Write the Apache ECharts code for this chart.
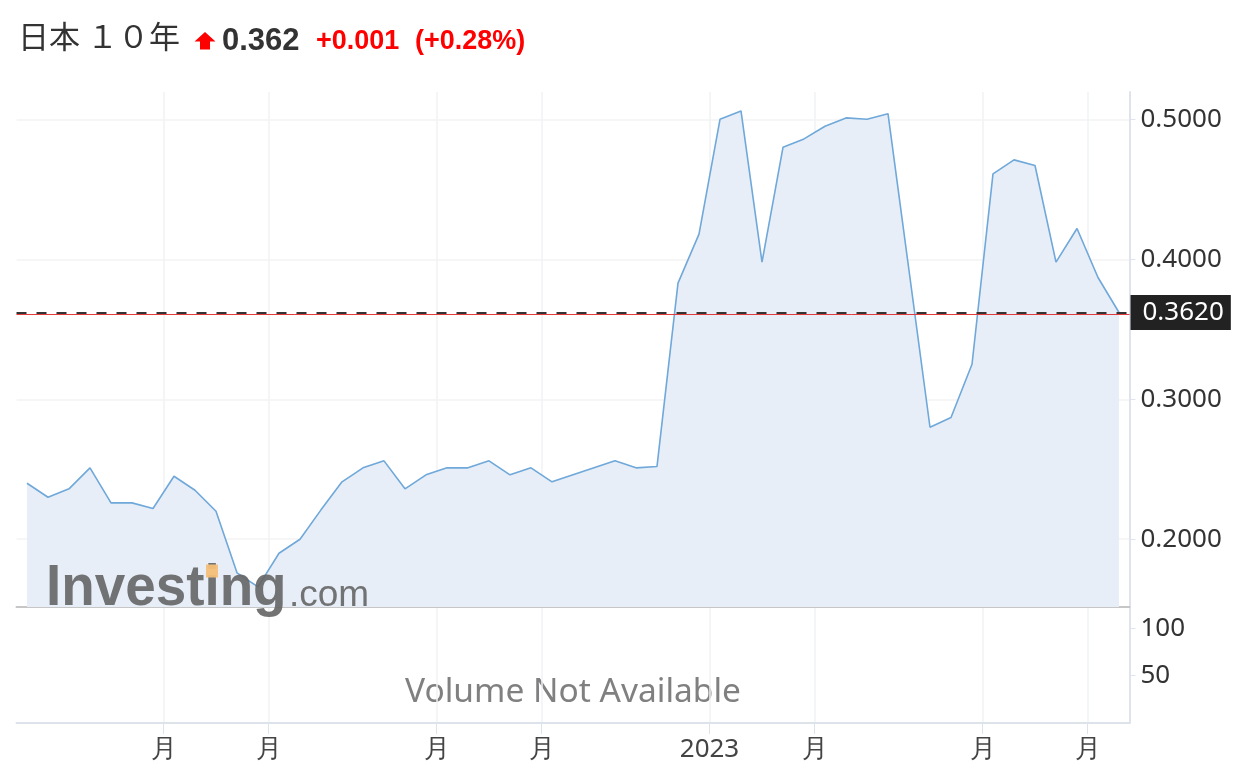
<!DOCTYPE html>
<html>
<head>
<meta charset="utf-8">
<script src="https://cdn.jsdelivr.net/npm/echarts@6/dist/echarts.min.js"></script>
<style>html,body{margin:0;padding:0;background:#fff}#c{width:1246px;height:780px}</style>
</head>
<body>
<div id="c"></div>
<script>
// ---- data ----
const titleName = '日本 １０年';
const lastValue = 0.362;
const changeText = '+0.001';
const changePctText = '(+0.28%)';
const prevClose = 0.361;
const yields = [0.240,0.230,0.236,0.251,0.226,0.226,0.222,0.245,0.235,0.220,0.176,0.166,0.190,
  0.200,0.221,0.241,0.251,0.256,0.236,0.246,0.251,0.251,0.256,0.246,0.251,0.241,0.246,0.251,0.256,0.251,0.252,
  0.383,0.418,0.500,0.506,0.398,0.480,0.486,0.495,0.501,0.500,0.504,null,
  0.280,0.287,0.325,0.461,0.471,0.467,0.398,0.422,0.387,0.362];
const tickPositions = [6.5, 11.5, 19.5, 24.5, 32.5, 37.5, 45.5, 50.5];
const tickLabels = ['月','月','月','月','2023','月','月','月'];
const priceTicks = [0.2, 0.3, 0.4, 0.5];
const volumeTicks = [50, 100];
const volumeNote = 'Volume Not Available';

// ---- chart ----
const chart = echarts.init(document.getElementById('c'));
const priceData = yields.map((v, i) => [i, v]);
const xMin = -0.5, xMax = yields.length - 0.5;
const labelFor = v => { const k = tickPositions.findIndex(t => Math.abs(t - v) < 1e-6); return k >= 0 ? tickLabels[k] : ''; };
const axisFont = 'Noto Sans';

// watermark geometry (decoration only)
const wmFont = 'bold 58px "Liberation Sans"';
const wmScale = 0.945, wmX = 46;
const mctx = document.createElement('canvas').getContext('2d');
mctx.font = wmFont;
const wInvest = mctx.measureText('Invest').width * wmScale;
const wI = mctx.measureText('i').width * wmScale;
const dotCx = wmX + wInvest + wI / 2;

chart.setOption({
  animation: false,
  backgroundColor: '#fff',
  grid: [
    {left: 16.5, right: 116.5, top: 92, height: 515},
    {left: 16.5, right: 116.5, top: 607, height: 116}
  ],
  xAxis: [
    {type: 'value', gridIndex: 0, min: xMin, max: xMax,
     axisLine: {show: true, onZero: false, lineStyle: {color: '#c6c6c6', width: 2}},
     axisTick: {show: false, customValues: tickPositions},
     axisLabel: {show: false, customValues: tickPositions},
     splitLine: {show: true, lineStyle: {color: '#f1f2f4', width: 1.5}}},
    {type: 'value', gridIndex: 1, min: xMin, max: xMax,
     axisLine: {show: true, onZero: false, lineStyle: {color: '#dde3eb', width: 2}},
     axisTick: {show: true, length: 11, customValues: tickPositions, lineStyle: {color: '#dde3eb', width: 1}},
     axisLabel: {show: true, customValues: tickPositions, formatter: labelFor, color: '#444', fontSize: 26, fontFamily: axisFont, margin: 14},
     splitLine: {show: true, lineStyle: {color: '#f1f2f4', width: 1.5}}}
  ],
  yAxis: [
    {type: 'value', gridIndex: 0, position: 'right', min: 0.1516, max: 0.5195,
     axisLine: {show: true, onZero: false, lineStyle: {color: '#dfe4ec', width: 2}},
     axisTick: {show: true, length: 6, customValues: priceTicks, lineStyle: {color: '#dfe4ec'}},
     axisLabel: {customValues: priceTicks, formatter: v => v.toFixed(4), color: '#333', fontSize: 26, fontFamily: axisFont, margin: 11},
     splitLine: {show: true, lineStyle: {color: '#f3f3f3', width: 1.5}}},
    {type: 'value', gridIndex: 1, position: 'right', min: 0, max: 122.5,
     axisLine: {show: true, onZero: false, lineStyle: {color: '#dfe4ec', width: 2}},
     axisTick: {show: true, length: 6, customValues: volumeTicks, lineStyle: {color: '#dfe4ec'}},
     axisLabel: {customValues: volumeTicks, color: '#333', fontSize: 26, fontFamily: axisFont, margin: 11},
     splitLine: {show: false}}
  ],
  series: [
    {type: 'line', xAxisIndex: 0, yAxisIndex: 0, data: priceData, connectNulls: true,
     symbol: 'none', showSymbol: false, silent: true,
     lineStyle: {color: '#6fa8d9', width: 1.6},
     areaStyle: {color: '#e7eef7', opacity: 1},
     markLine: {symbol: 'none', silent: true, animation: false, precision: 4,
       data: [
         {yAxis: prevClose, lineStyle: {color: '#e23b3b', width: 1, type: 'solid'}, label: {show: false}},
         {yAxis: lastValue, lineStyle: {color: '#333', width: 2, type: [10, 10]},
          label: {show: true, position: 'end', distance: 1, formatter: lastValue.toFixed(4), color: '#fff',
                  backgroundColor: '#222', fontSize: 26, lineHeight: 26, fontFamily: axisFont, padding: [5, 7, 4, 12]}}
       ]}}
  ],
  graphic: [
    {type: 'text', left: 18, top: 21, style: {text: titleName, font: '31px "Noto Sans CJK JP"', fill: '#333'}},
    {type: 'polygon', z: 10, shape: {points: [[205, 32], [215.5, 41.5], [210, 41.5], [210, 49.5], [200, 49.5], [200, 41.5], [194.5, 41.5]]}, style: {fill: '#f00'}},
    {type: 'text', x: 222, y: 41, style: {text: lastValue.toFixed(3), font: 'bold 31px "Liberation Sans"', fill: '#333', verticalAlign: 'middle'}},
    {type: 'text', x: 316, y: 42, style: {text: changeText, font: 'bold 27px "Liberation Sans"', fill: '#f00', verticalAlign: 'middle'}},
    {type: 'text', x: 415, y: 42, style: {text: changePctText, font: 'bold 27px "Liberation Sans"', fill: '#f00', verticalAlign: 'middle'}},
    {type: 'text', z: 10, x: wmX, y: 589, scaleX: wmScale, style: {text: 'Investing', font: wmFont, fill: 'rgba(100,100,100,0.9)', verticalAlign: 'middle'}},
    {type: 'text', z: 10, x: 289, y: 596, style: {text: '.com', font: '37px "Liberation Sans"', fill: 'rgba(100,100,100,0.9)', verticalAlign: 'middle'}},
    {type: 'rect', z: 11, shape: {x: dotCx - 6, y: 564.5, width: 12, height: 13}, style: {fill: 'rgba(244,190,120,0.95)'}},
    {type: 'text', x: 573, y: 692, style: {text: volumeNote, font: '33.5px "Noto Sans"', fill: '#808080', align: 'center', verticalAlign: 'middle'}}
  ]
});
</script>
</body>
</html>
